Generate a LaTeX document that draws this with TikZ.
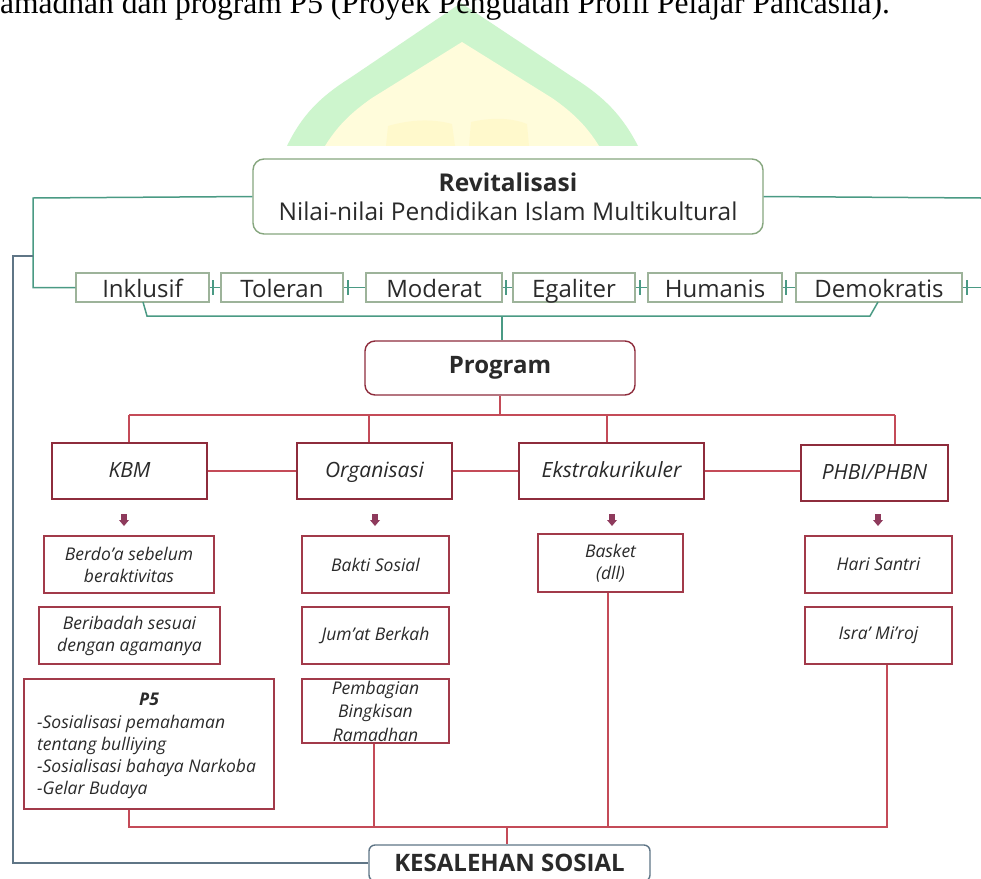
\documentclass[tikz,border=0pt]{standalone}
\usepackage{fontspec}
\setmainfont{Open Sans}
\newfontfamily\serifface{Liberation Serif}
\definecolor{wmgreen}{HTML}{CDF5CD}
\definecolor{wmyellow}{HTML}{FFFCDB}
\definecolor{wmbook}{HTML}{FFF9CC}
\definecolor{tealline}{HTML}{4A9A84}
\definecolor{rowborder}{HTML}{9DB39A}
\definecolor{revborder}{HTML}{86A67E}
\definecolor{redline}{HTML}{C44B58}
\definecolor{boxred}{HTML}{8E2C3C}
\definecolor{subred}{HTML}{A23A4A}
\definecolor{arrowc}{HTML}{8E3A5C}
\definecolor{blueline}{HTML}{5F7586}
\definecolor{txt}{HTML}{2A2A2A}
\begin{document}
\begin{tikzpicture}[x=1pt,y=-1pt,
  every node/.style={text=txt, inner sep=0pt},
  rowbox/.style={draw=rowborder, line width=1.1pt, minimum height=29pt, text height=21.5pt, text depth=2.5pt, font=\fontsize{24}{28}\selectfont},
  progbox/.style={draw=boxred, line width=1.4pt, minimum height=56pt, text height=16pt, text depth=4pt, font=\fontsize{21}{25}\selectfont\itshape},
  subbox/.style={draw=subred, line width=1.4pt, align=center, font=\fontsize{17.5}{22}\selectfont\itshape},
  gline/.style={draw=tealline, line width=1.5pt},
  rline/.style={draw=redline, line width=1.5pt},
  bline/.style={draw=blueline, line width=1.5pt},
  tickc/.style={draw=tealline, line width=1.2pt}
]
\clip (0,0) rectangle (981,878);
\useasboundingbox (0,0) rectangle (981,878);
\fill[white] (0,0) rectangle (981,878);
% watermark
\fill[wmgreen] (287,146) .. controls (302,115) and (320,97) .. (350,78) -- (461,3)
   -- (574,78) .. controls (604,97) and (622,115) .. (638,146) -- cycle;
\fill[wmyellow] (325,146) .. controls (338,125) and (352,112) .. (372,98) -- (462,42)
   -- (552,98) .. controls (572,112) and (586,125) .. (599,146) -- cycle;
\fill[wmbook] (386,146) -- (388,126) .. controls (412,119) and (434,119) .. (452,124) -- (455,146) -- cycle;
\fill[wmbook] (469,146) -- (471,122) .. controls (493,117) and (512,118) .. (527,124) -- (529,146) -- cycle;
\fill[white] (0,146) rectangle (981,878);
% top text
\node[anchor=base west, text=black, font=\serifface\fontsize{31.5}{36}\selectfont] (toptext) at (0,13.5)
  {amadhan dan program P5 (Proyek Penguatan Profil Pelajar Pancasila).};

% x positions used by connectors
\coordinate (x129) at (129,0);
\coordinate (x369) at (369,0);
\coordinate (x374) at (374,0);
\coordinate (x502) at (502,0);
\coordinate (x607) at (607,0);
\coordinate (x608) at (608,0);
\coordinate (x887) at (887,0);
\coordinate (x895) at (895,0);

% Revitalisasi
\node[draw=revborder, line width=1.4pt, rounded corners=11pt, minimum width=510pt, minimum height=75pt,
  align=center, font=\fontsize{24.5}{29}\selectfont] (rev) at (508,196.5)
  {\textbf{Revitalisasi}\\Nilai-nilai Pendidikan Islam Multikultural};

% value row
\node[rowbox, minimum width=133pt] (inkl) at (142.5,287.5) {Inklusif};
\node[rowbox, minimum width=122pt] (tol) at (282,287.5) {Toleran};
\node[rowbox, minimum width=136pt] (mod) at (434,287.5) {Moderat};
\node[rowbox, minimum width=122pt] (ega) at (574,287.5) {Egaliter};
\node[rowbox, minimum width=134pt] (hum) at (715,287.5) {Humanis};
\node[rowbox, minimum width=166pt] (demo) at (879,287.5) {Demokratis};
\coordinate (rightA) at (981,198);
\coordinate (rightB) at (981,287.5);
\coordinate (leftTop) at (33,198);
\coordinate (leftBot) at (33,287.5);
\coordinate (leftJoin) at (33,256);

\path[gline] (rev.west) -- (leftTop) -- (leftBot) -- (inkl.west);
\path[gline] (rev.east) -- (rightA);
\path[gline] (inkl.east) -- (tol.west);
\path[gline] (tol.east) -- (mod.west);
\path[gline] (mod.east) -- (ega.west);
\path[gline] (ega.east) -- (hum.west);
\path[gline] (hum.east) -- (demo.west);
\path[gline] (demo.east) -- (rightB);
\foreach \t in {213,348,506,640,786,967}{
  \path[tickc] (\t,280) -- (\t,295);
}
% Program
\node[draw=boxred, line width=1.4pt, rounded corners=10pt, minimum width=270pt, minimum height=54pt,
  font=\fontsize{24}{28}\selectfont\bfseries] (prog) at (500,368) {Program};
% bracket
\coordinate (brL) at (147,316);
\coordinate (brR) at (870,316);
\coordinate (brM) at (502,316);
\path[gline] (143,302) -- (brL) -- (brR) -- (878,302);
\path[gline] (brM) -- (prog.north -| x502);

% second level
\node[progbox, minimum width=155pt] (kbm) at (129.5,471) {KBM};
\node[progbox, minimum width=155pt] (org) at (374.5,471) {Organisasi};
\node[progbox, minimum width=185pt] (eks) at (611.5,471) {Ekstrakurikuler};
\node[progbox, minimum width=147pt] (phbi) at (874.5,473) {PHBI/PHBN};
\coordinate (pj) at (500,415);
\coordinate (hL) at (129,415);
\coordinate (hR) at (895,415);
\path[rline] (prog.south) -- (pj);
\path[rline] (hL) -- (hR);
\path[rline] (hL) -- (kbm.north -| x129);
\path[rline] (369,415) -- (org.north -| x369);
\path[rline] (607,415) -- (eks.north -| x607);
\path[rline] (hR) -- (phbi.north -| x895);
\path[rline] (kbm.east) -- (org.west);
\path[rline] (org.east) -- (eks.west);
\path[rline] (eks.east) -- (phbi.west |- eks.east);

% small arrows
\foreach \ax in {124,375,612,878}{
  \fill[arrowc] (\ax-2.8,514) rectangle (\ax+2.8,520.5);
  \fill[arrowc] (\ax-5,520) -- (\ax+5,520) -- (\ax,526) -- cycle;
}

% sub boxes
\node[subbox, minimum width=170pt, minimum height=57pt] (berdoa) at (129,564.5) {Berdo’a sebelum\\beraktivitas};
\node[subbox, minimum width=181pt, minimum height=57pt] (ibadah) at (129.5,635.5) {Beribadah sesuai\\dengan agamanya};
\node[subbox, minimum width=250pt, minimum height=130pt] (p5) at (149,744) {};
\node[font=\fontsize{17.5}{22}\selectfont\bfseries\itshape, anchor=base] (p5t) at (149,705) {P5};
\node[font=\fontsize{17.5}{22.2}\selectfont\itshape, align=left, anchor=west] (p5l) at (37,757)
  {-Sosialisasi pemahaman\\tentang bulliying\\-Sosialisasi bahaya Narkoba\\-Gelar Budaya};

\node[subbox, minimum width=147pt, minimum height=57pt] (bakti) at (375.5,564.5) {Bakti Sosial};
\node[subbox, minimum width=147pt, minimum height=57pt] (jumat) at (375.5,635.5) {Jum’at Berkah};
\node[subbox, minimum width=147pt, minimum height=64pt, font=\fontsize{17.5}{23.5}\selectfont\itshape] (bagi) at (375.5,711) {Pembagian\\Bingkisan\\Ramadhan};

\node[subbox, minimum width=145pt, minimum height=58pt] (basket) at (610.5,563) {Basket\\(dll)};

\node[subbox, minimum width=147pt, minimum height=57pt] (santri) at (878.5,564.5) {Hari Santri};
\node[subbox, minimum width=147pt, minimum height=57pt] (isra) at (878.5,635.5) {Isra’ Mi’roj};

% bottom collector
\node[draw=blueline, line width=1.4pt, rounded corners=6pt, minimum width=281pt, minimum height=36pt,
  font=\fontsize{24}{28}\selectfont\bfseries] (kes) at (509.5,863) {KESALEHAN SOSIAL};
\coordinate (cj) at (507,827);
\coordinate (bL) at (129,827);
\coordinate (bR) at (887,827);
\coordinate (lowL) at (13,863);
\coordinate (upL) at (13,256);
\path[rline] (p5.south -| x129) -- (bL) -- (bR) -- (isra.south -| x887);
\path[rline] (bagi.south -| x374) -- (374,827);
\path[rline] (basket.south -| x608) -- (608,827);
\path[rline] (cj) -- (kes.north -| cj);
\path[bline] (leftJoin) -- (upL) -- (lowL) -- (kes.west);
\end{tikzpicture}
\end{document}
